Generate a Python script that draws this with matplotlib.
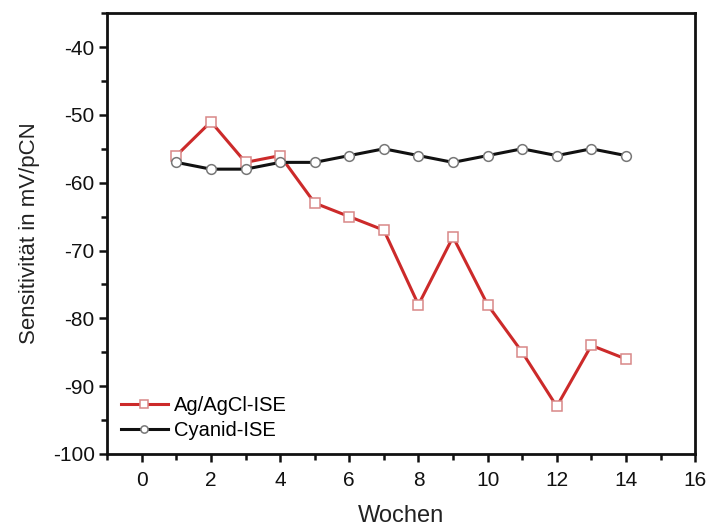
import matplotlib
matplotlib.use("Agg")
import matplotlib.pyplot as plt
from matplotlib.ticker import MultipleLocator

plt.rcParams['font.family'] = ['Liberation Sans', 'DejaVu Sans']
plt.rcParams['axes.unicode_minus'] = False

wochen = [1, 2, 3, 4, 5, 6, 7, 8, 9, 10, 11, 12, 13, 14]
ag_agcl = [-56, -51, -57, -56, -63, -65, -67, -78, -68, -78, -85, -93, -84, -86]
cyanid = [-57, -58, -58, -57, -57, -56, -55, -56, -57, -56, -55, -56, -55, -56]

fig = plt.figure(figsize=(7.10, 5.29), dpi=100)
ax = fig.add_axes([0.151, 0.142, 0.828, 0.833])

ax.plot(wochen, ag_agcl, color='#cc2a2a', lw=2.2, marker='s', ms=7,
        mfc='white', mec='#d88888', mew=1.1, label='Ag/AgCl-ISE', zorder=3)
ax.plot(wochen, cyanid, color='#111111', lw=2.2, marker='o', ms=7,
        mfc='white', mec='#777777', mew=1.1, label='Cyanid-ISE', zorder=4)

ax.set_xlim(-1, 16)
ax.set_ylim(-100, -35)
ax.xaxis.set_major_locator(MultipleLocator(2))
ax.xaxis.set_minor_locator(MultipleLocator(1))
ax.yaxis.set_major_locator(MultipleLocator(10))
ax.yaxis.set_minor_locator(MultipleLocator(5))
ax.tick_params(which='both', direction='out', top=False, right=False,
               width=1.8, labelsize=15, colors='#111111')
ax.tick_params(which='major', length=6)
ax.tick_params(axis='x', which='major', pad=6)
ax.tick_params(axis='y', which='major', pad=3)
ax.tick_params(which='minor', length=4)
for s in ax.spines.values():
    s.set_linewidth(2)
    s.set_color('#111111')

ax.set_xlabel('Wochen', fontsize=17, color='#222222', labelpad=11)
ax.set_ylabel('Sensitivität in mV/pCN', fontsize=16, color='#222222', labelpad=9)

ax.legend(loc='lower left', bbox_to_anchor=(0.0, 0.0), frameon=False,
          fontsize=14.5, handlelength=2.3, handletextpad=0.3,
          labelspacing=0.3, borderaxespad=0.3, markerscale=0.75)

fig.savefig('out.png', dpi=100)
